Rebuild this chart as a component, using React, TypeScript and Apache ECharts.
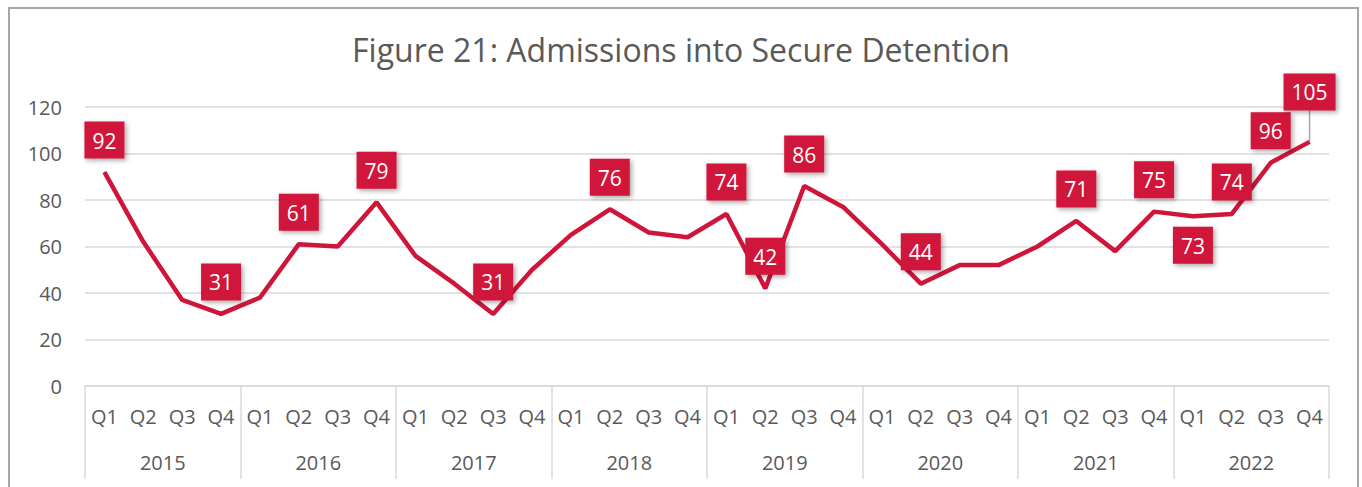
import React, { useEffect, useRef } from "react";
import * as echarts from "echarts";

const years = ["2015", "2016", "2017", "2018", "2019", "2020", "2021", "2022"];
const quarters = ["Q1", "Q2", "Q3", "Q4"];
const admissions = [
  92, 62, 37, 31,
  38, 61, 60, 79,
  56, 44, 31, 50,
  65, 76, 66, 64,
  74, 42, 86, 77,
  61, 44, 52, 52,
  60, 71, 58, 75,
  73, 74, 96, 105,
];
const yTicks = [0, 20, 40, 60, 80, 100, 120];
const labelledIdx = [0, 3, 5, 7, 10, 13, 16, 17, 18, 21, 25, 27, 28, 29, 30, 31];

const RED = "#D0153A";
const FONT = "'Open Sans', sans-serif";

export default function App() {
  const ref = useRef<HTMLDivElement>(null);
  useEffect(() => {
    document.body.style.margin = "0";
    const chart = echarts.init(ref.current!, null, { renderer: "svg" });
    const quarterCats: string[] = [];
    years.forEach(() => quarters.forEach((q) => quarterCats.push(q)));
    const last = admissions.length - 1;
    const data = admissions.map((v, i) => {
      if (!labelledIdx.includes(i)) return { value: v, label: { show: false } };
      const item: any = { value: v, label: { show: true, position: "top", distance: 13 } };
      if (i === 28) item.label = { show: true, position: "bottom", distance: 10, offset: [-5, 0] };
      if (i === last) {
        item.label = { show: true, position: "top", distance: 13 };
        item.labelLine = { show: true, lineStyle: { color: "#a6a6a6", width: 1.5 } };
      }
      return item;
    });
    chart.setOption({
      animation: false,
      title: {
        text: "Figure 21: Admissions into Secure Detention",
        left: "center",
        top: 28,
        textStyle: { fontFamily: FONT, fontSize: 32, fontWeight: "normal", color: "#595959" },
      },
      graphic: [
        {
          type: "rect",
          shape: { x: 9, y: 8, width: 1349, height: 600 },
          style: { fill: "none", stroke: "#a6a6a6", lineWidth: 2 },
          silent: true,
        },
      ],
      grid: { left: 85, right: 33, top: 107, bottom: 101 },
      xAxis: [
        {
          type: "category",
          data: quarterCats,
          position: "bottom",
          axisLine: { show: true, lineStyle: { color: "#d9d9d9", width: 1.5 } },
          axisTick: { show: false },
          axisLabel: { interval: 0, margin: 20, fontFamily: FONT, fontSize: 20, color: "#595959" },
        },
        {
          type: "category",
          data: years,
          position: "bottom",
          axisLine: { show: false },
          axisTick: { show: true, length: 93, interval: 0, lineStyle: { color: "#d9d9d9", width: 1.5 } },
          axisLabel: { interval: 0, margin: 66, fontFamily: FONT, fontSize: 20, color: "#595959" },
        },
      ],
      yAxis: {
        type: "value",
        min: yTicks[0],
        max: yTicks[yTicks.length - 1],
        interval: yTicks[1] - yTicks[0],
        axisLine: { show: false },
        axisTick: { show: false },
        splitLine: { lineStyle: { color: "#d9d9d9", width: 1.5 } },
        axisLabel: { margin: 23, fontFamily: FONT, fontSize: 20, color: "#595959" },
      },
      series: [
        {
          type: "line",
          xAxisIndex: 0,
          data,
          symbol: "circle",
          symbolSize: 1,
          showSymbol: true,
          itemStyle: { color: RED },
          lineStyle: { color: RED, width: 4.5 },
          label: {
            color: "#ffffff",
            fontFamily: FONT,
            fontSize: 21,
            lineHeight: 24,
            backgroundColor: RED,
            padding: [7, 8, 6, 8],
            shadowColor: "rgba(0,0,0,0.35)",
            shadowBlur: 5,
            shadowOffsetX: 2,
            shadowOffsetY: 2,
          },
          labelLayout: (p: any) => (p.dataIndex === last ? { dy: -18 } : {}),
          z: 3,
        },
      ],
    });
    return () => chart.dispose();
  }, []);
  return <div ref={ref} style={{ width: 1362, height: 487 }} />;
}
